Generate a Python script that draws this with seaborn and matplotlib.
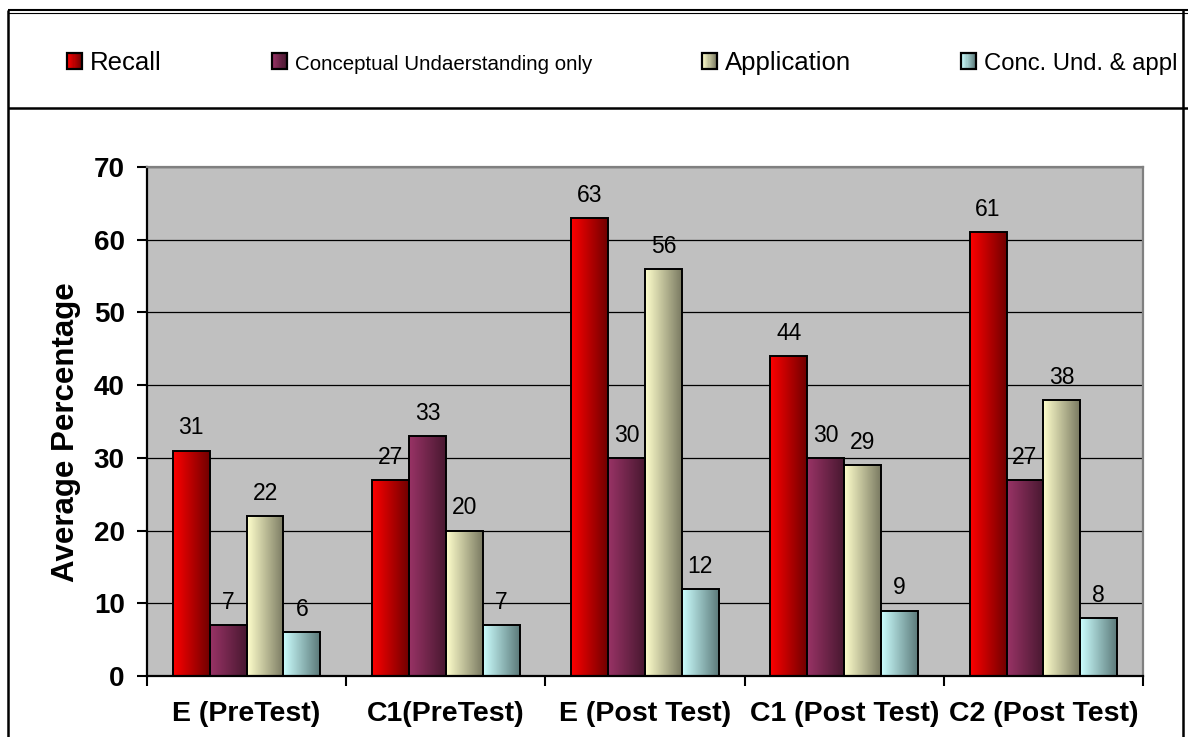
import numpy as np
import pandas as pd
import matplotlib
matplotlib.use("Agg")
import matplotlib.pyplot as plt
import seaborn as sns
from matplotlib.patches import Rectangle
from matplotlib.legend_handler import HandlerBase
from matplotlib.lines import Line2D
from matplotlib.colors import LinearSegmentedColormap

# ---------------- data ----------------
categories = ["E (PreTest)", "C1(PreTest)", "E (Post Test)", "C1 (Post Test)", "C2 (Post Test)"]
series_names = ["Recall", "Conceptual Undaerstanding only", "Application", "Conc. Und. & appl"]
recall = [31, 27, 63, 44, 61]
conceptual = [7, 33, 30, 30, 27]
application = [22, 20, 56, 29, 38]
conc_appl = [6, 7, 12, 9, 8]
y_ticks = [0, 10, 20, 30, 40, 50, 60, 70]
y_label = "Average Percentage"

# ---------------- style ----------------
light_colors = ["#FF0000", "#993366", "#FFFFCC", "#CCFFFF"]
dark_colors = ["#700000", "#481830", "#7A7A62", "#5C7A7A"]

plt.rcParams["font.family"] = ["Liberation Sans", "DejaVu Sans"]

W, H = 1188, 737
fig = plt.figure(figsize=(W / 100, H / 100), dpi=100)
fig.patch.set_facecolor("white")

# plot area in pixels
px_left, px_right, px_top, px_bottom = 147, 1143, 167, 676
ax = fig.add_axes([px_left / W, 1 - px_bottom / H, (px_right - px_left) / W, (px_bottom - px_top) / H])
ax.set_facecolor("#C0C0C0")

df = pd.DataFrame({
    "category": np.tile(categories, 4),
    "series": np.repeat(series_names, len(categories)),
    "value": recall + conceptual + application + conc_appl,
})

sns.barplot(data=df, x="category", y="value", hue="series", order=categories,
            hue_order=series_names, palette=light_colors, width=0.74, gap=0,
            saturation=1, errorbar=None, edgecolor="black", linewidth=1.4,
            legend=False, ax=ax)

# gradient fill of each bar (bright left -> dark right)
grad = np.linspace(0, 1, 256).reshape(1, -1)
cmaps = [LinearSegmentedColormap.from_list(f"g{i}", [light_colors[i], dark_colors[i]])
         for i in range(len(series_names))]
for i, cont in enumerate(ax.containers):
    for bar in cont:
        x0, y0 = bar.get_x(), bar.get_y()
        w, h = bar.get_width(), bar.get_height()
        im = ax.imshow(grad, extent=[x0, x0 + w, y0, y0 + h], aspect="auto",
                       cmap=cmaps[i], zorder=1.0, interpolation="bilinear")
        im.set_clip_path(bar)
        bar.set_facecolor("none")
        bar.set_zorder(1.2)
    ax.bar_label(cont, labels=[f"{v:g}" for v in cont.datavalues], padding=8,
                 fontsize=16.5, color="black")

ax.set_xlim(-0.5, len(categories) - 0.5)
ax.set_ylim(0, 70)
ax.set_yticks(y_ticks)
ax.set_yticklabels([str(t) for t in y_ticks], fontsize=20, fontweight="bold")
ax.set_xticks(range(len(categories)))
ax.set_xticklabels(categories, fontsize=20.5, fontweight="bold")
ax.set_xticks(np.arange(-0.5, len(categories), 1), minor=True)
ax.tick_params(axis="x", which="major", length=0, pad=18)
ax.tick_params(axis="x", which="minor", length=7, width=1.5, direction="out", color="black")
ax.tick_params(axis="y", which="major", length=7, width=1.5, direction="out", pad=9, color="black")
ax.set_xlabel("")
ax.set_ylabel(y_label, fontsize=22.5, fontweight="bold")
ax.yaxis.set_label_coords(-0.066, 0.48)

ax.set_axisbelow(True)
ax.yaxis.grid(True, color="black", linewidth=0.9)
ax.xaxis.grid(False)
for s in ["left", "bottom"]:
    ax.spines[s].set_color("black")
    ax.spines[s].set_linewidth(1.6)
for s in ["top", "right"]:
    ax.spines[s].set_color("#808080")
    ax.spines[s].set_linewidth(1.6)

# ---------------- legend ----------------
class GradHandler(HandlerBase):
    def __init__(self, c0, c1, n=14):
        super().__init__()
        self.cm = LinearSegmentedColormap.from_list("h", [c0, c1])
        self.n = n

    def create_artists(self, legend, orig_handle, xdescent, ydescent, width, height, fontsize, trans):
        arts = []
        cols = self.cm(np.linspace(0, 1, self.n))
        for k in range(self.n):
            arts.append(Rectangle((-xdescent + k * width / self.n, -ydescent), width / self.n, height,
                                  facecolor=cols[k], edgecolor="none", transform=trans))
        arts.append(Rectangle((-xdescent, -ydescent), width, height, facecolor="none",
                              edgecolor="black", linewidth=1.6, transform=trans))
        return arts

handles = [Rectangle((0, 0), 1, 1) for _ in series_names]
hmap = {h: GradHandler(light_colors[i], dark_colors[i]) for i, h in enumerate(handles)}
fs = 18.5
fs_px = fs * 100 / 72
leg = fig.legend(handles, series_names, handler_map=hmap, loc="center left",
                 bbox_to_anchor=(67 / W, 1 - 63 / H), ncol=4, frameon=False,
                 fontsize=fs, handlelength=15 / fs_px, handleheight=16 / fs_px,
                 handletextpad=8 / fs_px, columnspacing=110 / fs_px,
                 borderpad=0, borderaxespad=0)
texts = leg.get_texts()
texts[1].set_fontsize(14.8)
texts[3].set_fontsize(17.2)

# ---------------- frame lines ----------------
def fline(x0, y0, x1, y1, lw):
    fig.add_artist(Line2D([x0 / W, x1 / W], [1 - y0 / H, 1 - y1 / H], transform=fig.transFigure,
                          color="black", linewidth=lw, solid_capstyle="butt", zorder=10))

fline(8, 10, W, 10, 1.5)
fline(8, 13, W, 13, 0.8)
fline(8, 10, 8, H, 1.8)
fline(1183, 10, 1183, H, 1.8)
fline(8, 108, W, 108, 1.8)

fig.savefig("out.png", dpi=100)
